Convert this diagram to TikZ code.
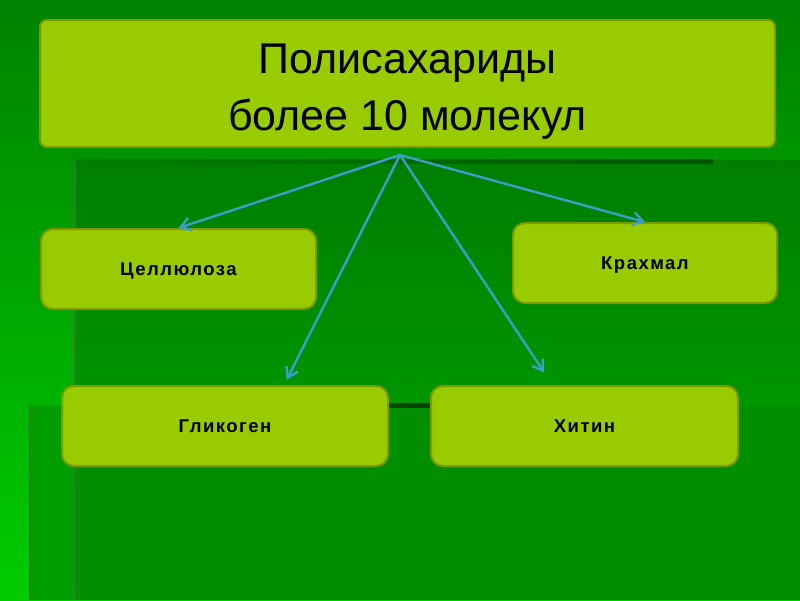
\documentclass[tikz,border=0pt]{standalone}
\usepackage{fontspec}
\setmainfont{Liberation Sans}
\usetikzlibrary{arrows.meta}
\definecolor{boxfill}{HTML}{99CC00}
\definecolor{boxline}{HTML}{7F9A00}
\definecolor{arrowblue}{HTML}{3A9FC8}
\definecolor{bgtop}{HTML}{008200}
\definecolor{bgbright}{HTML}{00CC00}
\definecolor{paneltop}{HTML}{007E00}
\definecolor{panelbot}{HTML}{009600}
\definecolor{stripmid}{HTML}{009E00}
\definecolor{stripin}{HTML}{008F00}
\definecolor{panelline}{HTML}{2B7F2B}
\begin{document}
\begin{tikzpicture}[x=1pt, y=-1pt,
	titlebox/.style={draw=boxline, line width=2pt, fill=boxfill, rounded corners=7pt,
		minimum width=735pt, minimum height=127pt, inner sep=0pt, align=center,
		text height=93pt, text depth=0pt, font=\fontsize{43}{57}\selectfont},
	itembox/.style={draw=boxline, line width=2pt, fill=boxfill, rounded corners=12pt,
		minimum width=#1, minimum height=80pt, inner sep=0pt,
		text height=13pt, text depth=0pt,
		font=\fontsize{18.5}{22}\selectfont\bfseries\addfontfeature{LetterSpace=8}},
	arr/.style={draw=arrowblue, line width=2.4pt, -{Straight Barb[length=10pt, width=13pt]}}]
	\useasboundingbox (0,0) rectangle (800,600);

	% Background and panels
	\shade[top color=bgtop, bottom color=bgbright] (0,0) rectangle (800,600);
	\shade[top color=paneltop, bottom color=panelbot] (75,160) rectangle (800,405);
	\fill[stripmid] (30,405) rectangle (800,600);
	\fill[stripin] (75,405) rectangle (800,600);
	\draw[panelline, line width=2.5pt] (75,160) -- (75,600);
	\draw[panelline, line width=2.5pt] (30,405) -- (30,600);
	\shade[left color=green!50!black, right color=green!32!black] (75,159) rectangle (713,163);
	\shade[left color=green!52!black, right color=green!25!black] (75,403) rectangle (440,407);

	% Define the nodes with specific positions
	\node[titlebox] (title) at (407.5,83.5) {Полисахариды\\более 10 молекул};
	\node[itembox=275pt] (cell) at (178.5,269) {Целлюлоза};
	\node[itembox=264pt] (krah) at (645,263) {Крахмал};
	\node[itembox=326pt] (glik) at (225,426) {Гликоген};
	\node[itembox=307pt] (hit) at (584.5,426) {Хитин};
	\coordinate (hub) at (400,155);

	% Draw the arrows from the hub
	\draw[arr] (hub) -- (cell.north);
	\draw[arr] (hub) -- (krah.north);
	\draw[arr, shorten >=6pt] (hub) -- ([xshift=59pt]glik.north);
	\draw[arr, shorten >=15pt] (hub) -- ([xshift=-32pt]hit.north);
\end{tikzpicture}
\end{document}
